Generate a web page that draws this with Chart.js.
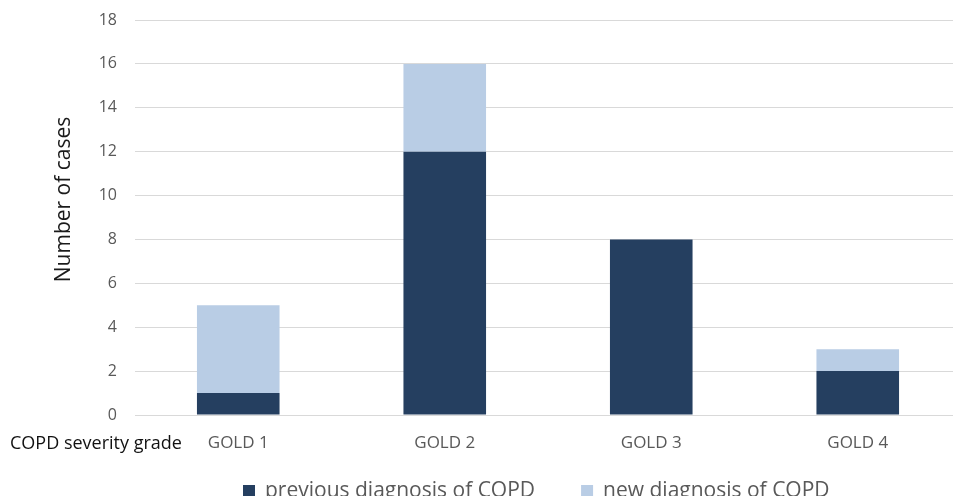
<!DOCTYPE html>
<html>
<head>
<meta charset="utf-8">
<script src="https://cdn.jsdelivr.net/npm/chart.js@4"></script>
<style>
  html, body { margin: 0; padding: 0; background: #ffffff; overflow: hidden; }
  #wrap { position: absolute; left: 0; top: 0; width: 965px; height: 512px; }
</style>
</head>
<body>
<div id="wrap"><canvas id="chart" width="965" height="512"></canvas></div>
<script>
// COPD cases by GOLD severity grade
const categories = ['GOLD 1', 'GOLD 2', 'GOLD 3', 'GOLD 4'];
const previousDiagnosis = [1, 12, 8, 2];
const newDiagnosis = [4, 4, 0, 1];
const seriesLabels = ['previous diagnosis of COPD', 'new diagnosis of COPD'];
const yMin = 0, yMax = 18, yStep = 2;
const yTitle = 'Number of cases';
const xTitle = 'COPD severity grade';

const FONT = "'Open Sans', 'DejaVu Sans', sans-serif";
const DARK = '#253f60';
const LIGHT = '#b9cde5';

// y-axis title, x-axis caption at the left of the tick row, and a bottom legend
const annotations = {
  id: 'annotations',
  afterDraw(chart) {
    const { ctx, chartArea } = chart;
    ctx.save();
    // y title
    ctx.fillStyle = '#1a1a1a';
    ctx.font = `21px ${FONT}`;
    ctx.textAlign = 'center';
    ctx.textBaseline = 'middle';
    ctx.translate(64, (chartArea.top + chartArea.bottom) / 2 - 18);
    ctx.rotate(-Math.PI / 2);
    ctx.fillText(yTitle, 0, 0);
    ctx.restore();

    ctx.save();
    ctx.fillStyle = '#111111';
    ctx.font = `18px ${FONT}`;
    ctx.textAlign = 'left';
    ctx.textBaseline = 'middle';
    ctx.fillText(xTitle, 10, chartArea.bottom + 29);

    // legend
    ctx.font = `21px ${FONT}`;
    const ly = chartArea.bottom + 76;
    let x = 243;
    chart.data.datasets.forEach((ds, i) => {
      ctx.fillStyle = ds.backgroundColor;
      ctx.fillRect(x, ly - 6, 12, 12);
      x += 22;
      ctx.fillStyle = '#595959';
      ctx.fillText(ds.label, x, ly);
      x += ctx.measureText(ds.label).width + 46;
    });
    ctx.restore();
  }
};

new Chart(document.getElementById('chart'), {
  type: 'bar',
  data: {
    labels: categories,
    datasets: [
      { label: seriesLabels[0], data: previousDiagnosis, backgroundColor: DARK, borderWidth: 0 },
      { label: seriesLabels[1], data: newDiagnosis, backgroundColor: LIGHT, borderWidth: 0 }
    ]
  },
  options: {
    responsive: false,
    animation: false,
    devicePixelRatio: 1,
    layout: { padding: { top: 20, right: 4, bottom: 0, left: 0 } },
    datasets: { bar: { categoryPercentage: 1.0, barPercentage: 0.4 } },
    plugins: { legend: { display: false }, tooltip: { enabled: false } },
    scales: {
      x: {
        stacked: true,
        grid: { display: false, drawTicks: false },
        border: { display: false },
        ticks: { color: '#595959', font: { family: FONT, size: 17 }, padding: 18 },
        afterFit(scale) { scale.height = 97; }
      },
      y: {
        stacked: true,
        min: yMin,
        max: yMax,
        grid: { color: '#d9d9d9', lineWidth: 1, drawTicks: false },
        border: { display: false },
        ticks: { stepSize: yStep, color: '#595959', font: { family: FONT, size: 16 }, padding: 18 },
        afterFit(scale) {
          scale.width = 135;
          scale.paddingTop = 0;
          scale.paddingBottom = 0;
        }
      }
    }
  },
  plugins: [annotations]
});
</script>
</body>
</html>
